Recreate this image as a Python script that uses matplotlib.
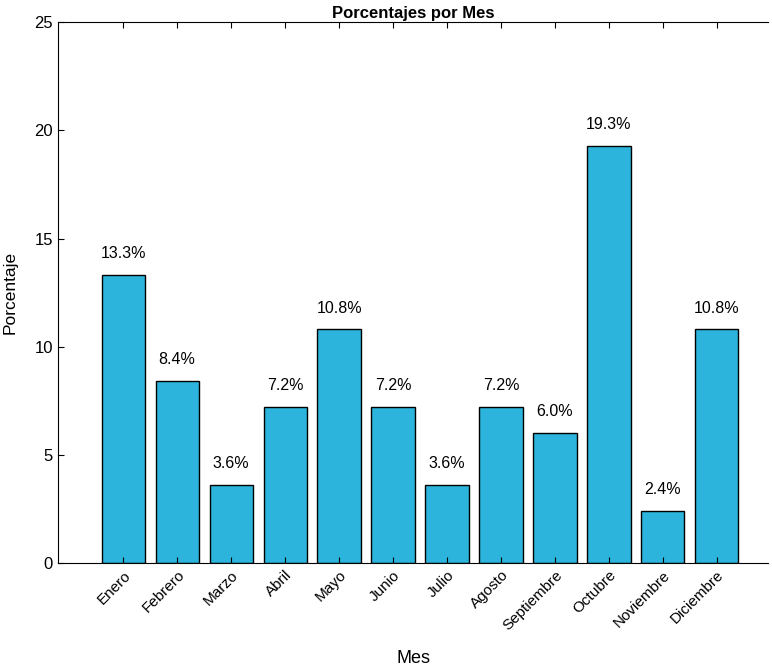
import numpy as np
import matplotlib.pyplot as plt

plt.rcParams['font.family'] = ['Liberation Sans', 'DejaVu Sans']

# Datos
meses = ["Enero", "Febrero", "Marzo", "Abril", "Mayo", "Junio", "Julio",
         "Agosto", "Septiembre", "Octubre", "Noviembre", "Diciembre"]
porcentajes = [13.3, 8.4, 3.6, 7.2, 10.8, 7.2, 3.6, 7.2, 6.0, 19.3, 2.4, 10.8]
y_ticks = [0, 5, 10, 15, 20, 25]


def plot_porcentajes():
    fig = plt.figure(figsize=(7.72, 6.72), dpi=100)
    ax = fig.add_axes([0.075, 0.162, 0.92, 0.805])

    x = np.arange(len(meses))
    bars = ax.bar(x, porcentajes, width=0.8, color="#2cb4dc",
                  edgecolor="black", linewidth=1.0)

    # Etiquetas sobre las barras.
    for b, v in zip(bars, porcentajes):
        ax.annotate(f"{v:.1f}%", (b.get_x() + b.get_width() / 2, v),
                    xytext=(0, 10), textcoords="offset points",
                    ha="center", va="bottom", fontsize=11.5)

    ax.set_xlim(-1.21, 11.95)
    ax.set_ylim(0, 25)
    ax.set_yticks(y_ticks)
    ax.set_xticks(x)
    ax.set_xticklabels(meses, rotation=45, ha="right", rotation_mode="anchor",
                       fontsize=11)
    ax.tick_params(axis="y", labelsize=12)
    ax.tick_params(direction="in", top=True, right=False, length=4)
    ax.spines["right"].set_visible(False)

    ax.set_title("Porcentajes por Mes", fontsize=12, fontweight="bold", pad=3)
    ax.set_xlabel("Mes", fontsize=13, labelpad=12)
    ax.set_ylabel("Porcentaje", fontsize=12.5, labelpad=12)

    fig.savefig("out.png", dpi=100)


if __name__ == "__main__":
    plot_porcentajes()
